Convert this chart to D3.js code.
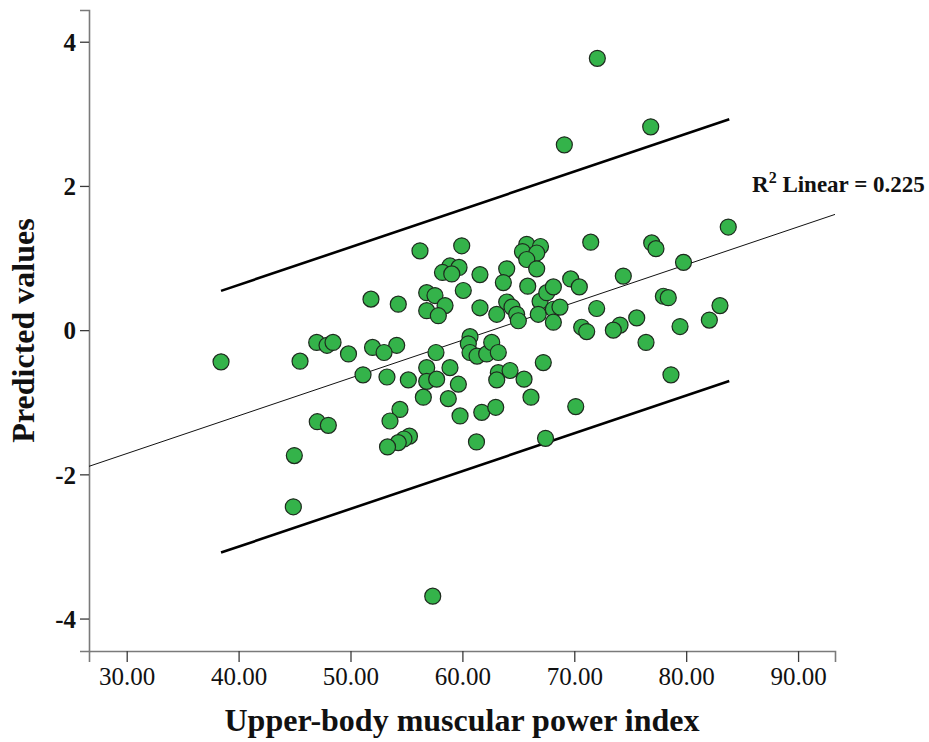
<!DOCTYPE html>
<html>
<head>
<meta charset="utf-8">
<script src="https://cdn.jsdelivr.net/npm/d3@7"></script>
<style>
  html, body { margin: 0; padding: 0; background: #fff; }
  svg { display: block; }
</style>
</head>
<body>
<svg id="chart" width="929" height="742"></svg>
<script>
// ---- data ----
const powerIndex = [
  38.43, 44.98, 44.89, 45.49, 46.98, 47.90, 48.44, 49.82, 47.03, 48.02,
  51.83, 51.97, 51.12, 57.35, 56.21, 59.94, 58.89, 58.22, 59.70, 59.05,
  61.57, 63.96, 63.66, 65.75, 66.98, 65.37, 66.64, 65.75, 66.64, 65.84,
  56.81, 57.55, 58.45, 56.81, 57.85, 54.27, 54.13, 53.00, 53.26, 55.17,
  56.81, 56.81, 57.70, 56.51, 58.89, 59.64, 58.74, 57.64, 60.68, 60.53,
  60.68, 61.31, 62.17, 62.62, 63.21, 67.23, 63.21, 64.26, 63.07, 65.51,
  66.13, 59.79, 61.73, 62.98, 54.42, 53.53, 55.27, 54.78, 54.27, 53.31,
  61.26, 67.43, 60.08, 61.57, 63.07, 63.96, 64.43, 64.85, 65.00, 66.94,
  67.54, 68.13, 66.78, 68.13, 68.72, 68.13, 71.47, 76.92, 77.30, 83.76,
  79.76, 74.38, 69.68, 70.45, 72.00, 77.96, 78.40, 83.02, 82.07, 79.45,
  75.58, 70.66, 71.11, 74.09, 73.49, 76.41, 78.64, 70.13, 72.06, 76.83,
  69.11
];
const predicted = [
  -0.44, -1.74, -2.45, -0.43, -0.17, -0.21, -0.17, -0.33, -1.27, -1.32,
   0.43, -0.24, -0.62, -3.69,  1.10,  1.17,  0.89,  0.80,  0.87,  0.78,
   0.77,  0.85,  0.66,  1.19,  1.16,  1.09,  1.07,  0.98,  0.85,  0.61,
   0.52,  0.48,  0.34,  0.27,  0.20,  0.36, -0.21, -0.31, -0.65, -0.69,
  -0.52, -0.71, -0.68, -0.93, -0.52, -0.75, -0.95, -0.31, -0.09, -0.19,
  -0.31, -0.36, -0.33, -0.17, -0.31, -0.45, -0.59, -0.56, -0.69, -0.68,
  -0.93, -1.19, -1.14, -1.07, -1.10, -1.26, -1.47, -1.51, -1.56, -1.62,
  -1.55, -1.50,  0.55,  0.31,  0.22,  0.39,  0.32,  0.22,  0.13,  0.40,
   0.52,  0.60,  0.22,  0.29,  0.32,  0.11,  1.22,  1.21,  1.13,  1.43,
   0.94,  0.75,  0.71,  0.60,  0.30,  0.47,  0.45,  0.34,  0.14,  0.05,
   0.17,  0.04, -0.02,  0.07,  0.00, -0.17, -0.62, -1.06,  3.77,  2.82,
   2.57
];
const xTicks = [30, 40, 50, 60, 70, 80, 90];
const yTicks = [-4, -2, 0, 2, 4];
const xDomain = [26.63, 93.3];
const yDomain = [-4.45, 4.44];
// linear fit and 95% prediction band
const fitIntercept = -3.284;
const fitSlope = 0.0524;
const bandHalfWidth = 1.815;
const bandRange = [38.43, 83.85];
const xTitle = "Upper-body muscular power index";
const yTitle = "Predicted values";
const r2Label = "0.225";

// ---- drawing ----
const svg = d3.select("#chart");
const FONT = "'Liberation Serif', 'Times New Roman', serif";
const L = 89, R = 835, T = 10, B = 651;

const x = d3.scaleLinear().domain(xDomain).range([L, R]);
const y = d3.scaleLinear().domain(yDomain).range([B, T]);

// axes
const xAxis = svg.append("g")
  .attr("transform", `translate(0,${B})`)
  .call(d3.axisBottom(x).tickValues(xTicks).tickFormat(d3.format(".2f")).tickSizeOuter(0).tickSize(11));
xAxis.select(".domain").attr("stroke", "#7a7a7a").attr("stroke-width", 1.6);
xAxis.selectAll(".tick line").attr("stroke", "#3a3a3a").attr("stroke-width", 1.3);
xAxis.selectAll(".tick text")
  .attr("y", 34).attr("dy", "0")
  .attr("fill", "#111")
  .style("font-family", FONT).style("font-size", "25px");

const yAxis = svg.append("g")
  .attr("transform", `translate(${L},0)`)
  .call(d3.axisLeft(y).tickValues(yTicks).tickFormat(d => String(d)).tickSizeOuter(0).tickSize(9));
yAxis.select(".domain").attr("stroke", "#7a7a7a").attr("stroke-width", 1.6);
yAxis.selectAll(".tick line").attr("stroke", "#3a3a3a").attr("stroke-width", 1.3);
yAxis.selectAll(".tick text")
  .attr("x", -13).attr("dy", "0.35em")
  .attr("fill", "#111")
  .style("font-family", FONT).style("font-size", "25px").style("font-weight", "bold");

// fit line across the whole x-range
const fit = v => fitIntercept + fitSlope * v;
svg.append("line")
  .attr("x1", x(xDomain[0])).attr("y1", y(fit(xDomain[0])))
  .attr("x2", x(xDomain[1])).attr("y2", y(fit(xDomain[1])))
  .attr("stroke", "#111").attr("stroke-width", 1);

// prediction band lines
[1, -1].forEach(s => {
  svg.append("line")
    .attr("x1", x(bandRange[0])).attr("y1", y(fit(bandRange[0]) + s * bandHalfWidth))
    .attr("x2", x(bandRange[1])).attr("y2", y(fit(bandRange[1]) + s * bandHalfWidth))
    .attr("stroke", "#000").attr("stroke-width", 2.6);
});

// points
const pts = powerIndex.map((v, i) => ({ x: v, y: predicted[i] }));
svg.append("g").selectAll("circle")
  .data(pts).join("circle")
  .attr("cx", d => x(d.x)).attr("cy", d => y(d.y))
  .attr("r", 8)
  .attr("fill", "#34b34a")
  .attr("stroke", "#1e2a1e").attr("stroke-width", 1.2);

// R² label
const r2 = svg.append("text")
  .attr("x", 752).attr("y", 192)
  .style("font-family", FONT).style("font-size", "23px").style("font-weight", "bold")
  .attr("fill", "#111");
r2.append("tspan").text("R");
r2.append("tspan").attr("dy", -9).style("font-size", "16px").text("2");
r2.append("tspan").attr("dy", 9).text(" Linear = " + r2Label);

// axis titles
svg.append("text")
  .attr("x", (L + R) / 2).attr("y", 731)
  .attr("text-anchor", "middle")
  .style("font-family", FONT).style("font-size", "32px").style("font-weight", "bold")
  .attr("fill", "#111")
  .text(xTitle);

svg.append("text")
  .attr("transform", `translate(34,${(T + B) / 2}) rotate(-90)`)
  .attr("text-anchor", "middle")
  .style("font-family", FONT).style("font-size", "32px").style("font-weight", "bold")
  .attr("fill", "#111")
  .text(yTitle);
</script>
</body>
</html>
